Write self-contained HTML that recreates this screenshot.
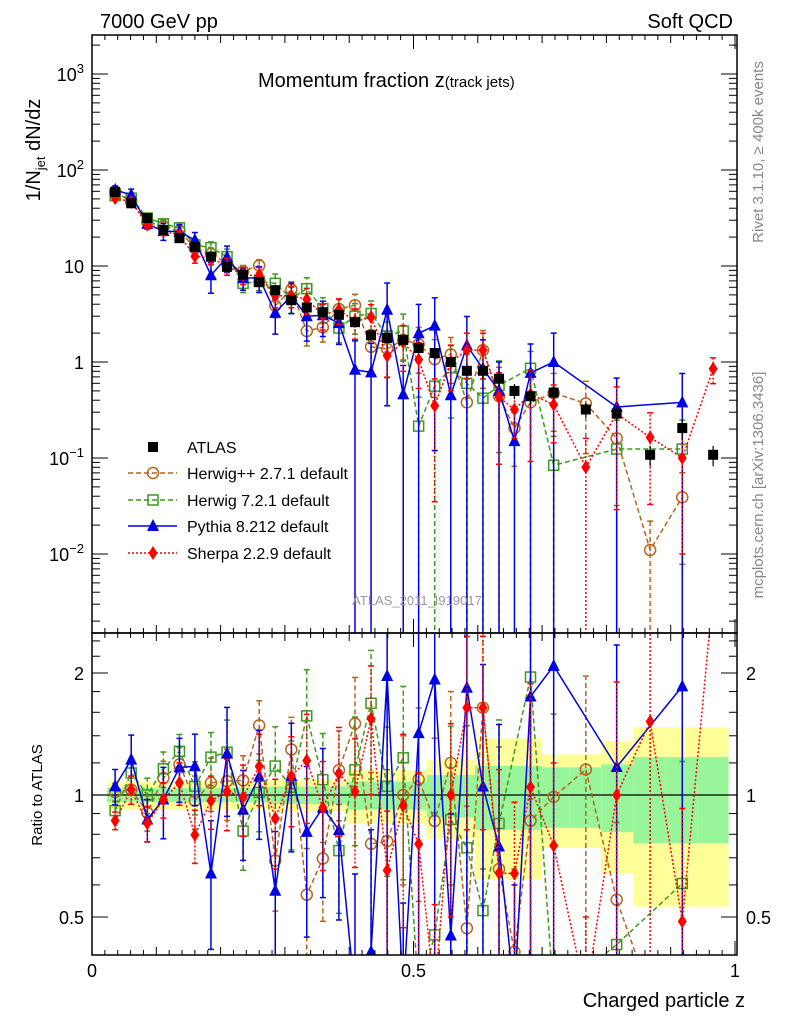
<!DOCTYPE html>
<html><head><meta charset="utf-8"><style>
html,body{margin:0;padding:0;background:#fff;width:786px;height:1024px;overflow:hidden;}
svg{display:block;font-family:"Liberation Sans",sans-serif;}
</style></head><body>
<svg id="chart" width="786" height="1024" viewBox="0 0 786 1024" xmlns="http://www.w3.org/2000/svg">
<defs>
<clipPath id="cm"><rect x="92" y="35" width="645" height="598"/></clipPath>
<clipPath id="cr"><rect x="92" y="633" width="645" height="322"/></clipPath>
</defs>
<g id="bands" clip-path="url(#cr)"></g>
<g id="gm" clip-path="url(#cm)"></g>
<g id="gr" clip-path="url(#cr)"></g>
<g id="axes"></g>
<text x="100" y="28" font-size="20">7000 GeV pp</text>
<text x="733" y="28" font-size="20" text-anchor="end">Soft QCD</text>
<text x="258" y="87" font-size="20">Momentum fraction z<tspan font-size="15">(track jets)</tspan></text>
<text transform="translate(40,150) rotate(-90)" font-size="20" text-anchor="middle">1/N<tspan font-size="13" dy="5">jet</tspan><tspan dy="-5"> dN/dz</tspan></text>
<text transform="translate(42,795) rotate(-90)" font-size="15" text-anchor="middle">Ratio to ATLAS</text>
<text x="745" y="1007" font-size="20" text-anchor="end">Charged particle z</text>
<text transform="translate(763,152) rotate(-90)" font-size="15" fill="#888" text-anchor="middle">Rivet 3.1.10, ≥ 400k events</text>
<text transform="translate(763,485) rotate(-90)" font-size="15" fill="#888" text-anchor="middle">mcplots.cern.ch [arXiv:1306.3436]</text>
<text x="417" y="605" font-size="13" fill="#999" text-anchor="middle">ATLAS_2011_I919017</text>
<g id="legend"></g>
</svg>
<script>
const zVals=[0.036,0.061,0.086,0.111,0.136,0.160,0.185,0.210,0.235,0.260,0.285,0.310,0.334,0.359,0.384,0.409,0.434,0.459,0.484,0.508,0.533,0.558,0.583,0.608,0.633,0.657,0.682,0.718,0.768,0.816,0.868,0.918,0.966];
const atlas=[59,45,31.6,23.7,19.5,15.8,12.5,9.8,8.1,6.8,5.6,4.4,3.7,3.3,3.1,2.6,1.9,1.78,1.7,1.40,1.24,1.0,0.81,0.81,0.67,0.50,0.44,0.48,0.32,0.29,0.108,0.205,0.108];
const atlasStat=[0.04,0.04,0.04,0.04,0.04,0.04,0.04,0.04,0.04,0.04,0.05,0.05,0.05,0.05,0.05,0.08,0.08,0.08,0.08,0.08,0.12,0.12,0.12,0.18,0.18,0.18,0.18,0.17,0.17,0.19,0.24,0.24,0.24];
const atlasTot=[0.08,0.08,0.08,0.08,0.08,0.08,0.08,0.08,0.08,0.08,0.09,0.09,0.09,0.09,0.09,0.15,0.15,0.15,0.15,0.15,0.22,0.22,0.22,0.38,0.38,0.38,0.38,0.26,0.26,0.36,0.47,0.47,0.47];
const herwigpp=[60,46.4,28.6,26.1,23.2,15.3,13.4,10.6,8.8,10.1,3.86,5.7,2.1,2.3,3.57,3.9,1.44,1.37,1.7,1.53,1.07,1.2,0.38,1.33,0.44,0.205,0.38,0.475,0.37,0.16,0.011,0.039,null];
const herwigppErr=[0.05,0.08,0.1,0.1,0.1,0.15,0.15,0.2,0.15,0.15,0.25,0.2,0.3,0.3,0.25,0.3,0.5,0.5,0.4,0.5,0.6,0.5,1,0.6,1,0.6,1,0.6,0.7,0.8,1,0.8,0];
const herwig7=[54,51,31.6,27.5,25,16.6,15.5,12.5,6.6,6.9,6.6,4.6,5.8,3.6,2.26,3.0,3.2,1.87,2.1,0.215,0.56,0.87,0.6,0.42,0.57,null,0.86,0.084,null,0.124,null,0.124,null];
const herwig7Err=[0.05,0.08,0.1,0.1,0.1,0.15,0.15,0.2,0.2,0.2,0.25,0.3,0.3,0.3,0.3,0.35,0.35,0.4,0.5,1,1,0.7,1,1,0.8,0,0.5,1,0,1,0,1,0];
const pythia=[62,55,27.5,23.1,22.8,18.6,8.0,12.4,7.45,7.55,3.25,4.9,3.0,3.07,2.54,0.83,0.78,3.5,0.46,1.99,2.39,0.45,1.49,0.85,0.50,0.15,0.77,1.0,null,0.34,null,0.38,null];
const pythiaErr=[0.1,0.15,0.12,0.2,0.18,0.2,0.35,0.3,0.25,0.3,0.4,0.35,0.45,0.4,0.4,1,1,0.9,1,1,0.95,1,1,1,1,1,1,1,0,1,0,1,0];
const sherpa=[51,46.4,26.9,23.1,20.9,12.6,12.1,10.0,8.0,8.0,4.9,4.9,4.5,3.07,3.5,2.65,2.93,1.16,1.6,1.06,0.35,1.0,1.33,1.33,0.43,0.32,0.46,0.36,0.08,0.29,0.164,0.1,0.85];
const sherpaErr=[0.05,0.08,0.1,0.1,0.12,0.15,0.15,0.2,0.2,0.2,0.25,0.25,0.3,0.3,0.3,0.35,0.35,0.4,0.5,0.5,0.9,0.5,0.5,0.5,0.8,0.5,0.8,0.6,1,0.9,0.8,0.9,0.3];
const xTicks=[0,0.5,1];
const xTickLabels=["0","0.5","1"];
const yDecades=[-2,-1,0,1,2,3];
const yDecadeLabels=["10","10","1","10","10","10"];
const yDecadeSup=["−2","−1","","","2","3"];
const rTicks=[0.5,1,2];
const rTickLabels=["0.5","1","2"];

const NS="http://www.w3.org/2000/svg";
const X=z=>92+z*643;
const Y=v=>362-96*Math.log10(v);
const R=r=>795-122*Math.log2(r);
const clampY=(y,a,b)=>Math.max(a,Math.min(b,y));
function mk(tag,parent,attrs){const e=document.createElementNS(NS,tag);for(const k in attrs)e.setAttribute(k,attrs[k]);parent.appendChild(e);return e;}
const gm=document.getElementById('gm'),gr=document.getElementById('gr'),ax=document.getElementById('axes'),bands=document.getElementById('bands'),lg=document.getElementById('legend');
function edges(i){const l=i>0?(zVals[i]+zVals[i-1])/2:zVals[0]-(zVals[1]-zVals[0])/2;const r=i<zVals.length-1?(zVals[i]+zVals[i+1])/2:zVals[i]+(zVals[i]-zVals[i-1])/2;return [l,r];}
[[atlasTot,'#ffff99'],[atlasStat,'#99f599']].forEach(([arr,col],bi)=>{
 arr.forEach((e,i)=>{const [l,r]=edges(i);
  const b=mk('rect',bands,{x:X(l),y:R(1+e),width:X(r)-X(l),height:R(1-e)-R(1+e),fill:col});
  
  });
});
mk('line',gr,{x1:92,x2:737,y1:R(1),y2:R(1),stroke:'#000','stroke-width':1.2});
function marker(g,type,x,y,col){
 let m;
 if(type==='square') m=mk('rect',g,{x:x-5,y:y-5,width:10,height:10,fill:'#000'});
 else if(type==='circle') m=mk('circle',g,{cx:x,cy:y,r:5.5,fill:'none',stroke:col,'stroke-width':1.5});
 else if(type==='osquare') m=mk('rect',g,{x:x-5,y:y-5,width:10,height:10,fill:'none',stroke:col,'stroke-width':1.5});
 else if(type==='tri') m=mk('polygon',g,{points:`${x},${y-7} ${x-6},${y+5} ${x+6},${y+5}`,fill:col});
 else m=mk('polygon',g,{points:`${x},${y-7} ${x-4.5},${y} ${x},${y+7} ${x+4.5},${y}`,fill:col});
 return m;
}
const series=[
 {name:'herwigpp',vals:herwigpp,err:herwigppErr,col:'#b5651d',dash:'5,3',m:'circle'},
 {name:'herwig7',vals:herwig7,err:herwig7Err,col:'#3c9a1e',dash:'5,3',m:'osquare'},
 {name:'pythia',vals:pythia,err:pythiaErr,col:'#0000e6',dash:'',m:'tri'},
 {name:'sherpa',vals:sherpa,err:sherpaErr,col:'#ff0000',dash:'2,2',m:'diamond'}];
function drawSeries(g,s,f,tag,lo,hi){
 let pts=[];
 s.vals.forEach((v,i)=>{if(v==null)return;const val=f(v,i);pts.push([X(zVals[i]),clampY(val.y,lo-40,hi+40)]);});
 const pl=mk('polyline',g,{points:pts.map(p=>p.join(',')).join(' '),fill:'none',stroke:s.col,'stroke-width':1.5,'stroke-dasharray':s.dash});
 
 
 s.vals.forEach((v,i)=>{if(v==null)return;const val=f(v,i);const x=X(zVals[i]);
  const y1=clampY(val.lo,lo-5,hi+5),y2=clampY(val.hi,lo-5,hi+5);
  const eb=mk('line',g,{x1:x,x2:x,y1:y1,y2:y2,stroke:s.col,'stroke-width':1.5,'stroke-dasharray':s.dash});
  
  
  [y1,y2].forEach(yy=>{const c=mk('line',g,{x1:x-3,x2:x+3,y1:yy,y2:yy,stroke:s.col,'stroke-width':1.5});
   
   });
  if(val.y>hi+10||val.y<lo-10)return;
  const m=marker(g,s.m,x,val.y,s.col);
  
  });
}
series.forEach(s=>{
 drawSeries(gm,s,(v,i)=>{const e=s.err[i];return {y:Y(v),hi:Y(v*(1+e)),lo:e>=1?640:Y(v*(1-e))};},'main',35,633);
 drawSeries(gr,s,(v,i)=>{const r=v/atlas[i],e=s.err[i];return {y:R(r),hi:R(r*(1+e)),lo:e>=1?960:R(r*(1-e))};},'ratio',633,955);
});
atlas.forEach((v,i)=>{const x=X(zVals[i]);
 const eb=mk('line',gm,{x1:x,x2:x,y1:Y(v*(1+atlasStat[i])),y2:Y(v*(1-atlasStat[i])),stroke:'#000','stroke-width':1.2});
 
 
 const m=marker(gm,'square',x,Y(v),'#000');
 
 });
[[35,633],[633,955]].forEach(([t,b],k)=>{const f=mk('rect',ax,{x:92,y:t,width:645,height:b-t,fill:'none',stroke:'#000','stroke-width':1.5});
 
 });
for(let j=0;j<=50;j++){const z=j/50;const x=X(z);const major=j%25===0,mid=j%5===0;const len=major?14:(mid?8:5);
 [[633,-1],[955,-1],[35,1],[633,1]].forEach(([y0,d])=>{const t=mk('line',ax,{x1:x,x2:x,y1:y0,y2:y0+d*len,stroke:'#000','stroke-width':1});
  
  });}
xTicks.forEach((z,i)=>{const t=mk('text',ax,{x:X(z),y:977,'font-size':18,'text-anchor':'middle'});t.textContent=xTickLabels[i];
 
 });
for(let d=-3;d<=3;d++){for(let m=1;m<=9;m++){const v=m*Math.pow(10,d);const y=Y(v);if(y<35||y>633)continue;const len=m===1?16:8;
 [[92,1],[737,-1]].forEach(([x0,s])=>{const t=mk('line',ax,{x1:x0,x2:x0+s*len,y1:y,y2:y,stroke:'#000','stroke-width':1});
  
  });}}
yDecades.forEach((d,i)=>{const t=mk('text',ax,{x:84,y:Y(Math.pow(10,d))+7,'font-size':18,'text-anchor':'end'});
 t.textContent=yDecadeLabels[i];
 if(yDecadeSup[i]){const s=mk('tspan',t,{'font-size':13,dy:-8});s.textContent=yDecadeSup[i];}
 
 });
const rMinor=[0.6,0.7,0.8,0.9,1.2,1.4,1.6,1.8,2.2,2.4];
rMinor.concat(rTicks).forEach(r=>{const y=R(r);const len=rTicks.includes(r)?16:8;
 [[92,1],[737,-1]].forEach(([x0,s])=>{const t=mk('line',ax,{x1:x0,x2:x0+s*len,y1:y,y2:y,stroke:'#000','stroke-width':1});
  
  });});
rTicks.forEach((r,i)=>{const a=mk('text',ax,{x:84,y:R(r)+7,'font-size':18,'text-anchor':'end'});a.textContent=rTickLabels[i];
 
 
 const b=mk('text',ax,{x:746,y:R(r)+7,'font-size':18});b.textContent=rTickLabels[i];
 
 });
const legNames=['ATLAS','Herwig++ 2.7.1 default','Herwig 7.2.1 default','Pythia 8.212 default','Sherpa 2.2.9 default'];
const legY=[447,473,500,526,553];
legNames.forEach((n,i)=>{const y=legY[i];
 if(i>0){const s=series[i-1];const l=mk('line',lg,{x1:128,x2:177,y1:y,y2:y,stroke:s.col,'stroke-width':1.5,'stroke-dasharray':s.dash});
  
  
  marker(lg,s.m,153,y,s.col);}
 else marker(lg,'square',153,y,'#000');
 const t=mk('text',lg,{x:187,y:y+6,'font-size':16});t.textContent=n;
 
 });
</script>
</body></html>
